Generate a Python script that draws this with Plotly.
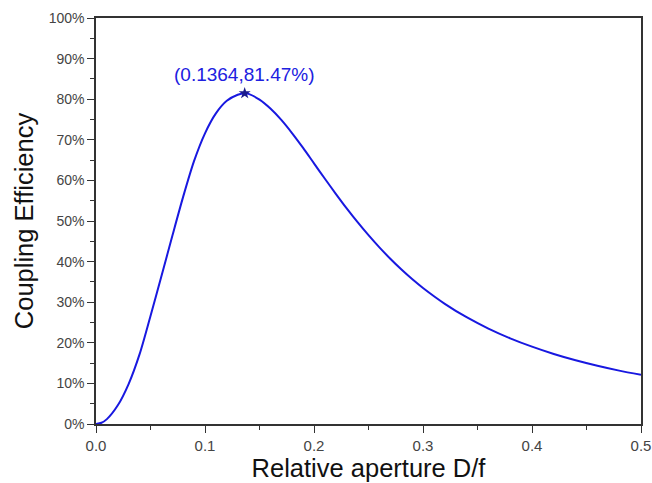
import plotly.graph_objects as go

# Relative aperture D/f
aperture = [0, 0.005, 0.01, 0.02, 0.03, 0.04, 0.05, 0.06, 0.07, 0.08, 0.09, 0.10,
            0.11, 0.12, 0.13, 0.1364, 0.14, 0.15, 0.16, 0.17, 0.18, 0.19, 0.20,
            0.21, 0.22, 0.23, 0.24, 0.25, 0.26, 0.27, 0.28, 0.29, 0.30, 0.32,
            0.34, 0.36, 0.38, 0.40, 0.42, 0.44, 0.46, 0.48, 0.50]
# Coupling efficiency (%)
efficiency = [0, 0.3, 1.2, 4.6, 9.9, 17.2, 26.6, 36.4, 46.3, 56.0, 64.8, 71.6,
              76.5, 79.6, 81.1, 81.47, 81.3, 79.9, 77.7, 74.9, 71.6, 68.0, 64.2,
              60.4, 56.7, 53.1, 49.7, 46.5, 43.5, 40.7, 38.1, 35.7, 33.5, 29.6,
              26.3, 23.5, 21.1, 19.05, 17.25, 15.7, 14.35, 13.15, 12.1]
peak_x = [0.1364]
peak_y = [81.47]
peak_label = "(0.1364,81.47%)"

FONT = "Liberation Sans, Arial, sans-serif"

fig = go.Figure()
fig.add_trace(go.Scatter(
    x=aperture, y=efficiency, mode="lines",
    line=dict(color="#1818e0", width=2, shape="spline", smoothing=0.8),
    showlegend=False, hoverinfo="skip"))
fig.add_trace(go.Scatter(
    x=peak_x, y=peak_y, mode="markers",
    marker=dict(symbol="star", size=9, color="#1a1a8c"),
    showlegend=False))
fig.add_annotation(
    x=peak_x[0], y=peak_y[0], text=peak_label, showarrow=False,
    yshift=19, font=dict(family=FONT, size=19, color="#2020e0"))

line_common = dict(
    showline=True, linecolor="#333333", linewidth=1.5, mirror=True,
    ticks="outside", ticklen=7, tickwidth=1.3, tickcolor="#333333",
    showgrid=False, zeroline=False, automargin=False,
)

fig.update_xaxes(
    range=[0, 0.5], tick0=0, dtick=0.1, tickformat=".1f",
    tickfont=dict(family=FONT, size=15, color="#444444"),
    minor=dict(ticks="outside", ticklen=4, tickwidth=1.3, tickcolor="#333333", dtick=0.05),
    title=dict(text="Relative aperture D/f", standoff=6,
               font=dict(family=FONT, size=25.5, color="#111111")),
    **line_common)
fig.update_yaxes(
    range=[0, 100], tick0=0, dtick=10, ticksuffix="%",
    tickfont=dict(family=FONT, size=14, color="#444444"),
    minor=dict(ticks="outside", ticklen=4, tickwidth=1.3, tickcolor="#333333", dtick=5),
    title=dict(text="Coupling Efficiency", standoff=8,
               font=dict(family=FONT, size=25.5, color="#111111")),
    **line_common)

fig.update_layout(
    width=652, height=483,
    margin=dict(l=96, r=11, t=18, b=59),
    paper_bgcolor="white", plot_bgcolor="white",
)

fig.write_html("out.html",
               config={"displayModeBar": False},
               post_script="document.body.style.margin='0';document.body.style.overflow='hidden';")
